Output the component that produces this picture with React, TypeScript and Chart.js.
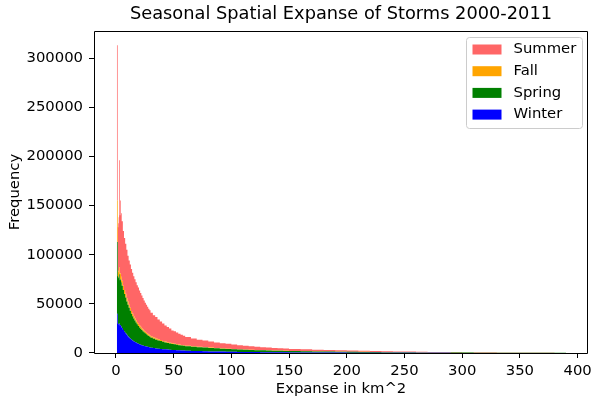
import { useEffect, useRef } from 'react';
import { Chart, registerables } from 'chart.js';

Chart.register(...registerables);

const TITLE = 'Seasonal Spatial Expanse of Storms 2000-2011';
const X_LABEL = 'Expanse in km^2';
const Y_LABEL = 'Frequency';
const X_TICKS = [0, 50, 100, 150, 200, 250, 300, 350, 400];
const Y_TICKS = [0, 50000, 100000, 150000, 200000, 250000, 300000];

// histogram bin edges (left edges, last entry is the right edge of the last bin)
const BIN_EDGES = [
  0.8, 1.5, 2.0, 2.4, 2.7, 3.3, 3.8, 4.4,
  5, 6, 7, 8, 9, 10, 11, 12, 13, 14, 15, 16, 17, 18, 19, 20, 21, 22, 23, 24, 25, 26, 27, 28, 29, 30,
  32, 34, 36, 38, 40, 42, 44, 46, 48, 50, 52, 54, 56, 58, 60,
  65, 70, 75, 80, 85, 90, 95, 100, 105, 110, 115, 120, 125, 130, 135, 140, 145, 150,
  160, 170, 180, 190, 200, 210, 220, 230, 240, 250, 260, 270, 280, 290, 300, 310, 320, 330, 340, 350, 360, 370, 380, 390,
];

const WINTER = [
  40000, 30000, 29500, 29000, 30000, 28000, 28500, 27000, 25500, 23500,
  21500, 20000, 18500, 17000, 15800, 14700, 13700, 12800, 12000, 11300,
  10600, 10000, 9400, 8900, 8400, 8000, 7600, 7200, 6900, 6600,
  6300, 6000, 5700, 5400,
  5000, 4700, 4400, 4100, 3900, 3700, 3500, 3300, 3100, 3000, 2850, 2700, 2600, 2500, 2350,
  2150, 1950, 1800, 1650, 1500, 1400, 1300, 1200, 1100, 1000, 950, 900, 850, 800, 750, 700, 650, 600,
  550, 500, 450, 400, 360, 320, 290, 260, 230, 200, 180, 160, 140, 120, 110, 100, 90, 80, 70, 60, 50, 40, 30,
];

const SPRING = [
  73000, 48000, 47500, 47000, 50000, 46000, 46500, 45000, 43000, 40500,
  38500, 36500, 34000, 32000, 30200, 28300, 26300, 24700, 23000, 21700,
  20400, 19200, 18100, 17100, 16200, 15300, 14500, 13800, 13100, 12400,
  11800, 11300, 10800, 10100,
  9500, 8900, 8400, 8000, 7500, 7100, 6700, 6400, 6100, 5800, 5550, 5300, 5000, 4800, 4550,
  4250, 3950, 3700, 3450, 3250, 3000, 2800, 2650, 2500, 2350, 2150, 2000, 1850, 1750, 1650, 1550, 1450, 1350,
  1200, 1100, 1000, 900, 820, 740, 660, 600, 540, 490, 440, 400, 360, 330, 290, 250, 230, 210, 190, 170, 150, 140, 130,
];

const FALL = [
  42000, 6000, 6000, 6000, 7000, 6000, 6000, 5500, 5000, 4500,
  4000, 3700, 3500, 3300, 3100, 2900, 2800, 2700, 2600, 2500,
  2400, 2300, 2200, 2100, 2000, 1900, 1800, 1700, 1600, 1600,
  1500, 1400, 1400, 1300,
  1200, 1100, 1100, 1000, 900, 900, 800, 800, 750, 700, 650, 650, 650, 600, 550,
  500, 450, 450, 400, 350, 350, 300, 300, 300, 250, 250, 220, 200, 190, 180, 170, 160, 150,
  140, 130, 120, 110, 100, 90, 80, 70, 70, 60, 55, 50, 45, 40, 35, 30, 25, 25, 25, 20, 20, 15, 15,
];

const SUMMER = [
  158000, 44000, 49000, 56000, 109000, 60000, 74000, 64500, 60500, 55500,
  53000, 50800, 49000, 46700, 44900, 44100, 42700, 41300, 40400, 39500,
  38600, 37500, 36800, 35400, 34400, 33300, 32100, 30800, 29400, 28400,
  27400, 26300, 25600, 24200,
  22800, 21800, 20100, 18900, 17700, 16300, 15500, 14500, 13050, 12500, 11750, 10950, 10250, 9600, 8850,
  7900, 7250, 6650, 6200, 5700, 5250, 4900, 4450, 4100, 3800, 3450, 3180, 3000, 2760, 2520, 2380, 2240, 2000,
  1810, 1670, 1530, 1390, 1220, 1100, 970, 870, 760, 650, 575, 490, 455, 410, 365, 320, 305, 285, 265, 250, 230, 205, 175,
];

const SERIES_NAMES = ['Winter', 'Spring', 'Fall', 'Summer'];
const SERIES_COLORS = ['#0000ff', '#008000', '#ffa500', '#ff6666'];

const FONT = '"DejaVu Sans"';
const TICK_FONT_SIZE = 14.8;
const TITLE_FONT_SIZE = 17.8;

function toSteps(values: number[]) {
  return BIN_EDGES.map((x, i) => ({ x, y: i < values.length ? values[i] : 0 }));
}

const framePlugin = {
  id: 'frame',
  afterDatasetsDraw(chart: any) {
    const { ctx, chartArea } = chart;
    const l = Math.round(chartArea.left) + 0.5;
    const r = Math.round(chartArea.right) - 0.5;
    const t = Math.round(chartArea.top) + 0.5;
    const b = Math.round(chartArea.bottom) + 0.5;
    ctx.save();
    ctx.strokeStyle = '#000';
    ctx.lineWidth = 1;
    ctx.beginPath();
    ctx.moveTo(l, t);
    ctx.lineTo(r, t);
    ctx.lineTo(r, b);
    ctx.lineTo(l, b);
    ctx.closePath();
    ctx.stroke();
    ctx.restore();
  },
};

const insideLegendPlugin = {
  id: 'insideLegend',
  afterDraw(chart: any) {
    const { ctx, chartArea } = chart;
    const items = chart.data.datasets.slice().reverse();
    const w = 116;
    const h = 91;
    const x0 = Math.round(chartArea.right) - 5 - w - 0.5;
    const y0 = Math.round(chartArea.top) + 6.5;
    ctx.save();
    ctx.beginPath();
    (ctx as any).roundRect(x0, y0, w, h, 3);
    ctx.fillStyle = 'rgba(255,255,255,0.8)';
    ctx.fill();
    ctx.strokeStyle = '#cccccc';
    ctx.lineWidth = 1;
    ctx.stroke();
    ctx.font = `${TICK_FONT_SIZE}px ${FONT}`;
    ctx.textBaseline = 'middle';
    ctx.textAlign = 'left';
    items.forEach((d: any, i: number) => {
      const cy = y0 + 12 + i * 21.7;
      ctx.fillStyle = d.backgroundColor;
      ctx.fillRect(x0 + 6, cy - 5, 29, 10);
      ctx.fillStyle = '#000';
      ctx.fillText(d.label, x0 + 47, cy);
    });
    ctx.restore();
  },
};

export default function App() {
  const ref = useRef<HTMLCanvasElement | null>(null);

  useEffect(() => {
    if (!ref.current) return;
    Chart.defaults.font.family = FONT;
    Chart.defaults.color = '#000';
    const seriesValues = [WINTER, SPRING, FALL, SUMMER];
    const datasets = seriesValues.map((vals, i) => ({
      label: SERIES_NAMES[i],
      data: toSteps(vals),
      backgroundColor: SERIES_COLORS[i],
      borderColor: 'rgba(0,0,0,0)',
      borderWidth: 0,
      pointRadius: 0,
      pointHoverRadius: 0,
      stepped: true,
      fill: i === 0 ? 'origin' : '-1',
    }));

    const chart = new Chart(ref.current, {
      type: 'line',
      data: { datasets } as any,
      options: {
        animation: false,
        responsive: false,
        devicePixelRatio: 1,
        layout: { padding: { left: 0, right: 3, top: 0, bottom: 0 } },
        plugins: {
          legend: { display: false },
          tooltip: { enabled: false },
          title: {
            display: true,
            text: TITLE,
            fullSize: false,
            color: '#000',
            font: { size: TITLE_FONT_SIZE, weight: 'normal' },
            padding: { top: 4, bottom: 5.6 },
          },
        },
        scales: {
          x: {
            type: 'linear',
            min: -19,
            max: 409,
            afterBuildTicks: (s: any) => {
              s.ticks = X_TICKS.map((v) => ({ value: v }));
            },
            afterFit: (s: any) => {
              s.height = 48;
              s.paddingLeft = 0;
              s.paddingRight = 0;
            },
            ticks: {
              callback: (v: any) => String(v),
              font: { size: TICK_FONT_SIZE },
              color: '#000',
              padding: 4,
              maxRotation: 0,
              autoSkip: false,
            },
            grid: { drawOnChartArea: false, drawTicks: true, tickLength: 5, color: '#000', lineWidth: 1 },
            border: { display: false },
            title: { display: true, text: X_LABEL, color: '#000', font: { size: TICK_FONT_SIZE }, padding: { top: 0, bottom: 3 } },
          },
          y: {
            type: 'linear',
            stacked: true,
            min: 0,
            max: 327500,
            afterBuildTicks: (s: any) => {
              s.ticks = Y_TICKS.map((v) => ({ value: v }));
            },
            afterFit: (s: any) => {
              s.width = 94;
              s.paddingTop = 0;
              s.paddingBottom = 0;
            },
            ticks: {
              callback: (v: any) => String(v),
              font: { size: TICK_FONT_SIZE },
              color: '#000',
              padding: 6,
              autoSkip: false,
            },
            grid: { drawOnChartArea: false, drawTicks: true, tickLength: 5, color: '#000', lineWidth: 1 },
            border: { display: false },
            title: { display: true, text: Y_LABEL, color: '#000', font: { size: TICK_FONT_SIZE }, padding: { top: 6, bottom: 0 } },
          },
        },
      } as any,
      plugins: [framePlugin, insideLegendPlugin],
    });
    return () => chart.destroy();
  }, []);

  return (
    <div style={{ position: 'fixed', left: 0, top: 0, width: 591, height: 401, background: '#fff' }}>
      <canvas ref={ref} width={591} height={401} style={{ display: 'block' }} />
    </div>
  );
}
